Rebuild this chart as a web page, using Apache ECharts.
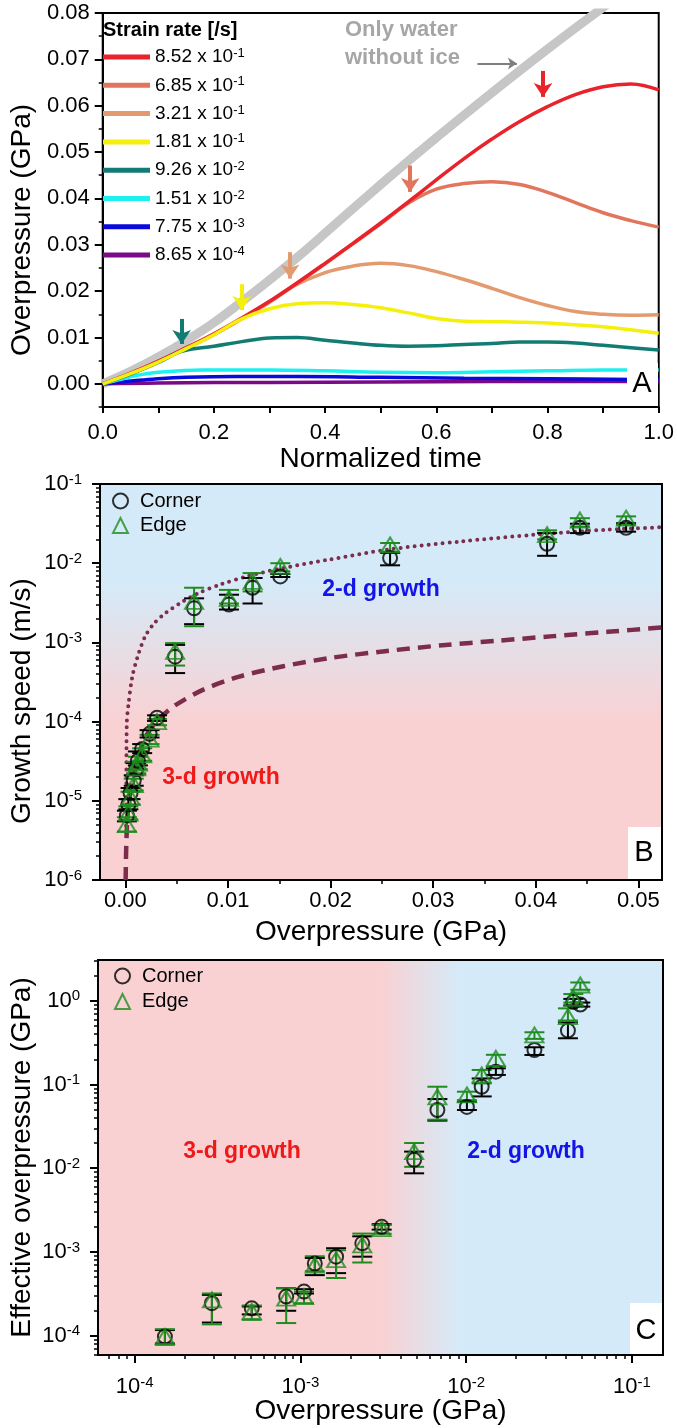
<!DOCTYPE html>
<html><head><meta charset="utf-8">
<script src="https://cdn.jsdelivr.net/npm/echarts@6/dist/echarts.min.js"></script>
<style>html,body{margin:0;padding:0;background:#fff}#c{width:677px;height:1428px}</style>
</head><body><div id="c"></div>
<script>
const FONT = '"Liberation Sans", Arial, sans-serif';

// ---------------- Panel A data ----------------
const rateMantissa = ['8.52', '6.85', '3.21', '1.81', '9.26', '1.51', '7.75', '8.65'];
const rateExponent = ['-1', '-1', '-1', '-1', '-2', '-2', '-3', '-4'];
const rateColors = ['#E8232B', '#E2765C', '#E29A6E', '#F4F00C', '#127B74', '#1CF0F0', '#0A0ADC', '#7A0A86'];

const tGray = [0, 0.05, 0.1, 0.15, 0.2, 0.25, 0.3, 0.35, 0.4, 0.45, 0.5, 0.55, 0.6, 0.7, 0.8, 0.9, 0.95];
const pGray = [0, 0.0027, 0.0058, 0.0093, 0.0132, 0.0177, 0.0224, 0.0273, 0.0325, 0.0378, 0.0430, 0.0481, 0.0531, 0.0628, 0.0722, 0.0812, 0.0855];

const tRed = [0, 0.05, 0.1, 0.15, 0.2, 0.25, 0.3, 0.35, 0.4, 0.45, 0.5, 0.55, 0.6, 0.65, 0.7, 0.75, 0.8, 0.85, 0.9, 0.95, 1.0];
const pRed = [0, 0.0023, 0.0049, 0.0078, 0.0108, 0.0142, 0.0178, 0.0218, 0.0260, 0.0303, 0.0347, 0.0393, 0.0440, 0.0486, 0.0528, 0.0566, 0.0598, 0.0624, 0.0641, 0.0647, 0.0634];

const tOrange = [0, 0.05, 0.1, 0.15, 0.2, 0.25, 0.3, 0.35, 0.4, 0.45, 0.5, 0.55, 0.6, 0.65, 0.7, 0.75, 0.8, 0.85, 0.9, 0.95, 1.0];
const pOrange = [0, 0.0022, 0.0048, 0.0077, 0.0107, 0.0141, 0.0177, 0.0217, 0.0259, 0.0302, 0.0345, 0.0390, 0.0420, 0.0432, 0.0436, 0.0430, 0.0413, 0.0391, 0.0369, 0.0352, 0.0338];

const tTan = [0, 0.05, 0.1, 0.15, 0.2, 0.25, 0.3, 0.34, 0.4, 0.45, 0.5, 0.55, 0.6, 0.65, 0.7, 0.75, 0.8, 0.85, 0.9, 0.95, 1.0];
const pTan = [0, 0.0022, 0.0047, 0.0076, 0.0106, 0.0140, 0.0176, 0.0209, 0.0240, 0.0254, 0.0260, 0.0255, 0.0242, 0.0225, 0.0206, 0.0186, 0.0169, 0.0156, 0.0150, 0.0148, 0.0149];

const tYellow = [0, 0.05, 0.1, 0.15, 0.2, 0.25, 0.3, 0.35, 0.4, 0.45, 0.5, 0.55, 0.6, 0.65, 0.7, 0.75, 0.8, 0.9, 1.0];
const pYellow = [0, 0.0022, 0.0047, 0.0076, 0.0106, 0.0140, 0.0162, 0.0173, 0.0175, 0.0171, 0.0164, 0.0153, 0.0141, 0.0135, 0.0134, 0.0133, 0.0131, 0.0123, 0.0109];

const tTeal = [0, 0.05, 0.1, 0.142, 0.2, 0.25, 0.3, 0.35, 0.4, 0.45, 0.5, 0.55, 0.6, 0.65, 0.7, 0.75, 0.8, 0.85, 0.9, 0.95, 1.0];
const pTeal = [0, 0.0021, 0.0046, 0.0070, 0.0081, 0.0091, 0.0099, 0.0100, 0.0094, 0.0088, 0.0083, 0.0081, 0.0082, 0.0085, 0.0087, 0.0090, 0.0090, 0.0088, 0.0083, 0.0078, 0.0073];

const tCyan = [0, 0.03, 0.06, 0.1, 0.18, 0.3, 0.4, 0.5, 0.6, 0.7, 0.8, 0.9, 1.0];
const pCyan = [0, 0.0009, 0.0018, 0.0025, 0.0030, 0.0030, 0.0028, 0.0025, 0.0024, 0.0026, 0.0028, 0.0030, 0.0030];

const tBlue = [0, 0.05, 0.09, 0.15, 0.24, 0.35, 0.5, 0.65, 0.8, 1.0];
const pBlue = [0, 0.0006, 0.0010, 0.0014, 0.0016, 0.0016, 0.0014, 0.0012, 0.0011, 0.0009];

const tPurple = [0, 0.1, 0.3, 0.5, 0.7, 1.0];
const pPurple = [0, 0.0002, 0.0003, 0.0004, 0.0005, 0.0005];

// arrows (time, start value, end value) : teal, yellow, tan, orange, red
const arrowT = [0.142, 0.25, 0.337, 0.553, 0.792];
const arrowFrom = [0.0140, 0.0215, 0.0284, 0.0471, 0.0675];
const arrowTo = [0.0086, 0.0159, 0.0227, 0.0414, 0.0619];
const grayArrowT = [0.674, 0.745];
const grayArrowP = 0.0691;

const aXLabels = [0, 0.2, 0.4, 0.6, 0.8, 1.0];
const aYLabels = [0, 0.01, 0.02, 0.03, 0.04, 0.05, 0.06, 0.07, 0.08];
const aYMinor = [-0.005, 0.005, 0.015, 0.025, 0.035, 0.045, 0.055, 0.065, 0.075];

// ---------------- Panel B / C data ----------------
const overpressure = [1.52e-4, 2.92e-4, 5.08e-4, 8.2e-4, 1.05e-3, 1.22e-3, 1.64e-3, 2.36e-3, 3.09e-3, 4.85e-3, 6.7e-3, 1.01e-2, 1.24e-2, 1.51e-2, 2.58e-2, 4.11e-2, 4.43e-2, 4.88e-2];

const bCorner   = [6.5e-6, 9.0e-6, 1.25e-5, 1.8e-5, 2.5e-5, 3.2e-5, 4.5e-5, 7.0e-5, 1.12e-4, 6.6e-4, 2.7e-3, 3.0e-3, 4.9e-3, 6.8e-3, 1.16e-2, 1.76e-2, 2.8e-2, 2.8e-2];
const bCornerLo = [5.5e-6, 7.8e-6, 1.05e-5, 1.55e-5, 2.2e-5, 2.8e-5, 4.0e-5, 6.3e-5, 1.02e-4, 4.1e-4, 1.7e-3, 2.6e-3, 3.1e-3, 6.7e-3, 9.4e-3, 1.24e-2, 2.4e-2, 2.5e-2];
const bCornerHi = [7.5e-6, 1.05e-5, 1.45e-5, 2.1e-5, 3.0e-5, 4.2e-5, 5.2e-5, 7.8e-5, 1.2e-4, 9.3e-4, 3.6e-3, 4.0e-3, 6.5e-3, 7.3e-3, 1.35e-2, 2.4e-2, 3.15e-2, 3.2e-2];
const bEdge     = [5.0e-6, 7.0e-6, 1.1e-5, 1.6e-5, 2.6e-5, 3.0e-5, 3.8e-5, 6.0e-5, 1.0e-4, 7.7e-4, 3.3e-3, 3.6e-3, 5.9e-3, 9.1e-3, 1.7e-2, 2.29e-2, 3.5e-2, 3.7e-2];
const bEdgeLo   = [4.1e-6, 5.8e-6, 9.0e-6, 1.35e-5, 2.2e-5, 2.5e-5, 3.2e-5, 5.2e-5, 9.0e-5, 5.1e-4, 1.6e-3, 3.1e-3, 4.4e-3, 7.9e-3, 1.4e-2, 2.0e-2, 2.9e-2, 3.06e-2];
const bEdgeHi   = [6.2e-6, 8.5e-6, 1.3e-5, 1.9e-5, 3.1e-5, 3.6e-5, 4.6e-5, 6.8e-5, 1.08e-4, 9.8e-4, 4.9e-3, 4.6e-3, 7.5e-3, 1.0e-2, 1.8e-2, 2.6e-2, 3.7e-2, 3.9e-2];

const bDotX = [0.00008, 0.0001, 0.00014, 0.00032, 0.00068, 0.00121, 0.00193, 0.00284, 0.00392, 0.00535, 0.00714, 0.0093, 0.0118, 0.0154, 0.0197, 0.0255, 0.0327, 0.0399, 0.047, 0.0525];
const bDotV = [4e-6, 2e-5, 9.6e-5, 1.72e-4, 3.7e-4, 6.7e-4, 1.19e-3, 1.76e-3, 2.35e-3, 3.14e-3, 4.2e-3, 5.4e-3, 6.8e-3, 8.7e-3, 1.1e-2, 1.48e-2, 1.88e-2, 2.29e-2, 2.65e-2, 2.85e-2];
const bDashX = [0.00003, 0.0001, 0.0003, 0.001, 0.002, 0.003, 0.0043, 0.005, 0.0075, 0.0111, 0.0154, 0.0201, 0.0255, 0.0309, 0.0363, 0.0417, 0.047, 0.0525];
const bDashV = [1e-6, 3e-6, 9e-6, 3e-5, 6.5e-5, 1.0e-4, 1.42e-4, 1.65e-4, 2.5e-4, 3.7e-4, 5.0e-4, 6.4e-4, 7.8e-4, 9.2e-4, 1.05e-3, 1.2e-3, 1.36e-3, 1.55e-3];

const bXLabels = [0, 0.01, 0.02, 0.03, 0.04, 0.05];
const bXMinor = [0.005, 0.015, 0.025, 0.035, 0.045];
const bYDecades = [-6, -5, -4, -3, -2, -1];

const cCorner   = [9.8e-5, 2.45e-4, 2.13e-4, 2.94e-4, 3.37e-4, 7.3e-4, 8.8e-4, 1.27e-3, 2.0e-3, 1.26e-2, 4.96e-2, 5.4e-2, 9.4e-2, 0.142, 0.258, 0.44, 0.97, 0.90];
const cCornerLo = [8.1e-5, 1.44e-4, 1.8e-4, 1.99e-4, 3.2e-4, 5.3e-4, 5.6e-4, 8.8e-4, 1.85e-3, 8.7e-3, 3.7e-2, 4.96e-2, 7.2e-2, 0.13, 0.225, 0.356, 0.88, 0.85];
const cCornerHi = [1.17e-4, 3.08e-4, 2.24e-4, 3.7e-4, 3.6e-4, 8.5e-4, 1.11e-3, 1.54e-3, 2.15e-3, 1.58e-2, 6.7e-2, 6.25e-2, 0.118, 0.156, 0.278, 0.55, 1.05, 0.95];
const cEdge     = [9.8e-5, 2.68e-4, 1.95e-4, 2.81e-4, 2.94e-4, 7.0e-4, 8.1e-4, 1.22e-3, 1.9e-3, 1.58e-2, 7.1e-2, 7.5e-2, 0.13, 0.205, 0.39, 0.645, 1.07, 1.54];
const cEdgeLo   = [7.8e-5, 1.37e-4, 1.55e-4, 1.42e-4, 2.45e-4, 5.9e-4, 4.9e-4, 7.5e-4, 1.65e-3, 1.04e-2, 3.8e-2, 6.5e-2, 0.103, 0.163, 0.35, 0.58, 0.95, 1.35];
const cEdgeHi   = [1.2e-4, 3.2e-4, 2.3e-4, 3.7e-4, 3.37e-4, 8.9e-4, 1.05e-3, 1.66e-3, 2.1e-3, 2.0e-2, 9.4e-2, 8.2e-2, 0.149, 0.226, 0.42, 0.81, 1.2, 1.65];

const cXRange = [6.0e-5, 0.154];
const cYRange = [5.9e-5, 3.06];
const bYRange = [1e-6, 0.1];
const bXRange = [-0.00247, 0.0523];
const cXDecades = [-4, -3, -2, -1];
const cYDecades = [-4, -3, -2, -1, 0];

// ---------------- helpers ----------------
function minorLogTicks(lo, hi) {
  const out = [];
  for (let d = Math.floor(lo) - 1; d <= Math.ceil(hi); d++) {
    for (let k = 2; k <= 9; k++) {
      const v = d + Math.log10(k);
      if (v > lo && v < hi) out.push(v);
    }
  }
  return out;
}
const L10 = Math.log10;
const pair = (xs, ys) => xs.map((x, i) => [x, ys[i]]);
const triple = (xs, lo, hi) => xs.map((x, i) => [x, lo[i], hi[i]]);

const axisLine = { show: true, onZero: false, lineStyle: { color: '#000', width: 2 } };
const noLine = { show: false, onZero: false };
const majorTick = (vals) => ({ show: true, inside: false, length: 8, customValues: vals, lineStyle: { color: '#000', width: 2 } });
const minorTick = (vals) => ({ show: true, inside: false, length: 4, customValues: vals, lineStyle: { color: '#000', width: 1.5 } });
const tickFont = { fontFamily: FONT, fontSize: 22, color: '#000' };
const nameFont = { fontFamily: FONT, fontSize: 28, color: '#000' };
const powRich = {
  b: { fontFamily: FONT, fontSize: 22, color: '#000', lineHeight: 24 },
  s: { fontFamily: FONT, fontSize: 15, color: '#000', lineHeight: 15, verticalAlign: 'top' }
};
const powFmt = v => '{b|10}{s|' + Math.round(v) + '}';

function errBars(color, capW) {
  return function (params, api) {
    const x = api.value(0), lo = api.value(1), hi = api.value(2);
    const a = api.coord([x, lo]), b = api.coord([x, hi]);
    const st = { stroke: color, lineWidth: 2, fill: null };
    return {
      type: 'group', children: [
        { type: 'line', shape: { x1: a[0], y1: a[1], x2: b[0], y2: b[1] }, style: st },
        { type: 'line', shape: { x1: a[0] - capW / 2, y1: a[1], x2: a[0] + capW / 2, y2: a[1] }, style: st },
        { type: 'line', shape: { x1: b[0] - capW / 2, y1: b[1], x2: b[0] + capW / 2, y2: b[1] }, style: st }
      ]
    };
  };
}

const GREEN = '#1F8C1F';
const CURVE = '#7B2D4B';

// ---------------- series ----------------
const aNames = rateMantissa.map((m, i) => m + ' x 10^' + rateExponent[i]);
const aT = [tRed, tOrange, tTan, tYellow, tTeal, tCyan, tBlue, tPurple];
const aP = [pRed, pOrange, pTan, pYellow, pTeal, pCyan, pBlue, pPurple];
const drawOrder = [7, 6, 5, 2, 1, 0, 4, 3];
const arrowOwner = { 4: 0, 3: 1, 2: 2, 1: 3, 0: 4 };

const series = [];
series.push({
  type: 'line', name: 'Only water without ice', xAxisIndex: 0, yAxisIndex: 0,
  data: pair(tGray, pGray), showSymbol: false, symbol: 'none', smooth: 0.4,
  lineStyle: { color: '#C6C6C6', width: 9 }, z: 2,
  markLine: {
    silent: true, symbol: ['none', 'arrow'], symbolSize: 9,
    label: { show: false },
    lineStyle: { color: '#7F7F7F', width: 2, type: 'solid' },
    data: [[{ coord: [grayArrowT[0], grayArrowP] }, { coord: [grayArrowT[1], grayArrowP] }]]
  }
});
drawOrder.forEach(i => {
  const s = {
    type: 'line', name: aNames[i], xAxisIndex: 0, yAxisIndex: 0,
    data: pair(aT[i], aP[i]), showSymbol: false, symbol: 'none', smooth: 0.4,
    lineStyle: { color: rateColors[i], width: 3.5 }, itemStyle: { color: rateColors[i] }, z: 3
  };
  if (arrowOwner[i] !== undefined) {
    const k = arrowOwner[i];
    s.markLine = {
      silent: true, symbol: ['none', 'arrow'], symbolSize: 14,
      label: { show: false },
      lineStyle: { color: rateColors[i], width: 4, type: 'solid' },
      data: [[{ coord: [arrowT[k], arrowFrom[k]] }, { coord: [arrowT[k], arrowTo[k]] }]]
    };
  }
  series.push(s);
});

// Panel B
series.push({ type: 'line', name: '2-d model', xAxisIndex: 1, yAxisIndex: 2, data: pair(bDotX, bDotV), showSymbol: false, symbol: 'none', smooth: 0.3,
  lineStyle: { color: CURVE, width: 4, type: [0, 7], cap: 'round' }, z: 2 });
series.push({ type: 'line', name: '3-d model', xAxisIndex: 1, yAxisIndex: 2, data: pair(bDashX, bDashV), showSymbol: false, symbol: 'none', smooth: 0.3,
  lineStyle: { color: CURVE, width: 4.5, type: [13, 8] }, z: 2 });
series.push({ type: 'custom', name: 'Corner err', xAxisIndex: 1, yAxisIndex: 2, renderItem: errBars('#000', 20), data: triple(overpressure, bCornerLo, bCornerHi), z: 3 });
series.push({ type: 'custom', name: 'Edge err', xAxisIndex: 1, yAxisIndex: 2, renderItem: errBars(GREEN, 20), data: triple(overpressure, bEdgeLo, bEdgeHi), z: 4 });
series.push({ type: 'scatter', name: 'Corner', xAxisIndex: 1, yAxisIndex: 2, data: pair(overpressure, bCorner), symbol: 'circle', symbolSize: 14,
  itemStyle: { color: 'rgba(0,0,0,0)', borderColor: '#000', borderWidth: 2 }, z: 5 });
series.push({ type: 'scatter', name: 'Edge', xAxisIndex: 1, yAxisIndex: 2, data: pair(overpressure, bEdge), symbol: 'triangle', symbolSize: [18, 15],
  itemStyle: { color: 'rgba(0,0,0,0)', borderColor: GREEN, borderWidth: 2 }, z: 6 });

// Panel C
series.push({ type: 'custom', name: 'Corner err C', xAxisIndex: 3, yAxisIndex: 5, renderItem: errBars('#000', 20), data: triple(overpressure, cCornerLo, cCornerHi), z: 3 });
series.push({ type: 'custom', name: 'Edge err C', xAxisIndex: 3, yAxisIndex: 5, renderItem: errBars(GREEN, 20), data: triple(overpressure, cEdgeLo, cEdgeHi), z: 4 });
series.push({ type: 'scatter', name: 'Corner', xAxisIndex: 3, yAxisIndex: 5, data: pair(overpressure, cCorner), symbol: 'circle', symbolSize: 14,
  itemStyle: { color: 'rgba(0,0,0,0)', borderColor: '#000', borderWidth: 2 }, z: 5 });
series.push({ type: 'scatter', name: 'Edge', xAxisIndex: 3, yAxisIndex: 5, data: pair(overpressure, cEdge), symbol: 'triangle', symbolSize: [18, 15],
  itemStyle: { color: 'rgba(0,0,0,0)', borderColor: GREEN, borderWidth: 2 }, z: 6 });

// ---------------- axes ----------------
const gridBorder = { show: true, borderColor: '#000', borderWidth: 2 };
const grids = [
  Object.assign({ left: 98, top: 13, width: 562, height: 394, backgroundColor: '#fff' }, gridBorder),
  Object.assign({ left: 98, top: 484, width: 564, height: 396,
    backgroundColor: new echarts.graphic.LinearGradient(0, 0, 0, 1, [
      { offset: 0, color: '#D5EAF8' }, { offset: 0.25, color: '#D5EAF8' },
      { offset: 0.6, color: '#F9D1D3' }, { offset: 1, color: '#F9D1D3' }]) }, gridBorder),
  Object.assign({ left: 98, top: 960, width: 565, height: 395,
    backgroundColor: new echarts.graphic.LinearGradient(0, 0, 1, 0, [
      { offset: 0, color: '#F9D1D3' }, { offset: 0.5, color: '#F9D1D3' },
      { offset: 0.64, color: '#D5EAF8' }, { offset: 1, color: '#D5EAF8' }]) }, gridBorder)
];

const xAxes = [
  { gridIndex: 0, type: 'value', min: 0, max: 1, interval: 0.1, axisLine,
    axisTick: { show: true, length: 6, lineStyle: { color: '#000', width: 2 } },
    axisLabel: Object.assign({ customValues: aXLabels, margin: 15, formatter: v => v.toFixed(1) }, tickFont),
    splitLine: { show: false }, name: 'Normalized time', nameLocation: 'middle', nameGap: 37, nameTextStyle: nameFont },
  { gridIndex: 1, type: 'value', min: bXRange[0], max: bXRange[1], axisLine,
    axisTick: majorTick(bXLabels),
    axisLabel: Object.assign({ customValues: bXLabels, margin: 10, formatter: v => v.toFixed(2) }, tickFont),
    splitLine: { show: false }, name: 'Overpressure (GPa)', nameLocation: 'middle', nameGap: 38, nameTextStyle: nameFont },
  { gridIndex: 1, type: 'value', min: bXRange[0], max: bXRange[1], position: 'bottom', axisLine: noLine,
    axisTick: minorTick(bXMinor), axisLabel: { show: false }, splitLine: { show: false } },
  { gridIndex: 2, type: 'log', min: cXRange[0], max: cXRange[1], axisLine, axisTick: { show: false }, axisLabel: { show: false },
    splitLine: { show: false }, name: 'Overpressure (GPa)', nameLocation: 'middle', nameGap: 42, nameTextStyle: nameFont },
  { gridIndex: 2, type: 'value', min: L10(cXRange[0]), max: L10(cXRange[1]), position: 'bottom', axisLine: noLine,
    axisTick: majorTick(cXDecades),
    axisLabel: { customValues: cXDecades, margin: 20, formatter: powFmt, rich: powRich },
    splitLine: { show: false } },
  { gridIndex: 2, type: 'value', min: L10(cXRange[0]), max: L10(cXRange[1]), position: 'bottom', axisLine: noLine,
    axisTick: minorTick(minorLogTicks(L10(cXRange[0]), L10(cXRange[1]))), axisLabel: { show: false }, splitLine: { show: false } }
];

const yAxes = [
  { gridIndex: 0, type: 'value', min: -0.005, max: 0.08, position: 'left', axisLine,
    axisTick: majorTick(aYLabels),
    axisLabel: Object.assign({ customValues: aYLabels, margin: 13, formatter: v => v.toFixed(2) }, tickFont),
    splitLine: { show: false }, name: 'Overpressure (GPa)', nameLocation: 'middle', nameGap: 64,
    nameTextStyle: Object.assign({ padding: [0, 40, 0, 0] }, nameFont) },
  { gridIndex: 0, type: 'value', min: -0.005, max: 0.08, position: 'left', axisLine: noLine,
    axisTick: minorTick(aYMinor), axisLabel: { show: false }, splitLine: { show: false } },
  { gridIndex: 1, type: 'log', min: bYRange[0], max: bYRange[1], position: 'left', axisLine, axisTick: { show: false }, axisLabel: { show: false },
    splitLine: { show: false }, name: 'Growth speed (m/s)', nameLocation: 'middle', nameGap: 64,
    nameTextStyle: Object.assign({ padding: [0, 38, 0, 0] }, nameFont) },
  { gridIndex: 1, type: 'value', min: L10(bYRange[0]), max: L10(bYRange[1]), position: 'left', axisLine: noLine,
    axisTick: majorTick(bYDecades),
    axisLabel: { customValues: bYDecades, margin: 18, formatter: powFmt, rich: powRich },
    splitLine: { show: false } },
  { gridIndex: 1, type: 'value', min: L10(bYRange[0]), max: L10(bYRange[1]), position: 'left', axisLine: noLine,
    axisTick: minorTick(minorLogTicks(L10(bYRange[0]), L10(bYRange[1]))), axisLabel: { show: false }, splitLine: { show: false } },
  { gridIndex: 2, type: 'log', min: cYRange[0], max: cYRange[1], position: 'left', axisLine, axisTick: { show: false }, axisLabel: { show: false },
    splitLine: { show: false }, name: 'Effective overpressure (GPa)', nameLocation: 'middle', nameGap: 62, nameTextStyle: nameFont },
  { gridIndex: 2, type: 'value', min: L10(cYRange[0]), max: L10(cYRange[1]), position: 'left', axisLine: noLine,
    axisTick: majorTick(cYDecades),
    axisLabel: { customValues: cYDecades, margin: 18, formatter: powFmt, rich: powRich },
    splitLine: { show: false } },
  { gridIndex: 2, type: 'value', min: L10(cYRange[0]), max: L10(cYRange[1]), position: 'left', axisLine: noLine,
    axisTick: minorTick(minorLogTicks(L10(cYRange[0]), L10(cYRange[1]))), axisLabel: { show: false }, splitLine: { show: false } }
];

// ---------------- legends ----------------
const legRich = {
  a: { fontFamily: FONT, fontSize: 19, color: '#000', lineHeight: 20 },
  s: { fontFamily: FONT, fontSize: 13, color: '#000', lineHeight: 13, verticalAlign: 'top' }
};
const cbLegendData = [
  { name: 'Corner', icon: 'circle', itemStyle: { color: 'rgba(0,0,0,0)', borderColor: '#000', borderWidth: 2 } },
  { name: 'Edge', icon: 'triangle', itemStyle: { color: 'rgba(0,0,0,0)', borderColor: GREEN, borderWidth: 2 } }
];
const legends = [
  { orient: 'vertical', left: 103, top: 47, padding: 0, itemWidth: 47, itemHeight: 5, icon: 'rect', itemGap: 8.3, selectedMode: false,
    data: aNames, formatter: n => { const p = n.split(' x 10^'); return '{a|' + p[0] + ' x 10}{s|' + p[1] + '}'; },
    textStyle: { rich: legRich, lineHeight: 20 } },
  { orient: 'vertical', left: 112, top: 491, padding: 0, itemWidth: 15, itemHeight: 15, itemGap: 4.5, selectedMode: false,
    data: cbLegendData, textStyle: { fontFamily: FONT, fontSize: 20, color: '#000', lineHeight: 15, padding: [0, 0, 0, 7] } },
  { orient: 'vertical', left: 114, top: 966, padding: 0, itemWidth: 15, itemHeight: 15, itemGap: 5.5, selectedMode: false,
    data: cbLegendData, textStyle: { fontFamily: FONT, fontSize: 20, color: '#000', lineHeight: 15, padding: [0, 0, 0, 7] } }
];

// ---------------- annotations ----------------
const txt = (x, y, text, size, color, weight, align) => ({
  type: 'text', x, y, z: 100,
  style: { text, fontFamily: FONT, fontSize: size, fill: color, fontWeight: weight || 'normal', align: align || 'left', verticalAlign: 'middle' }
});
const box = (x, y, w, h) => ({ type: 'rect', z: 99, shape: { x, y, width: w, height: h }, style: { fill: '#fff' } });
const graphic = [
  txt(103, 30, 'Strain rate [/s]', 20, '#000', 'bold'),
  txt(345, 30, 'Only water', 22, '#A6A6A6', 'bold'),
  txt(345, 58, 'without ice', 22, '#A6A6A6', 'bold'),
  box(627, 363, 31, 43), txt(642, 384, 'A', 29, '#000', 'normal', 'center'),
  txt(381, 590, '2-d growth', 23, '#1414E6', 'bold', 'center'),
  txt(221, 778, '3-d growth', 23, '#EE1A1A', 'bold', 'center'),
  box(628, 827, 33, 52), txt(644, 853, 'B', 29, '#000', 'normal', 'center'),
  txt(242, 1152, '3-d growth', 23, '#EE1A1A', 'bold', 'center'),
  txt(526, 1152, '2-d growth', 23, '#1414E6', 'bold', 'center'),
  box(630, 1303, 32, 51), txt(646, 1331, 'C', 29, '#000', 'normal', 'center')
];

const chart = echarts.init(document.getElementById('c'));
chart.setOption({
  animation: false,
  backgroundColor: '#fff',
  textStyle: { fontFamily: FONT },
  grid: grids, xAxis: xAxes, yAxis: yAxes, legend: legends, series, graphic
});
</script></body></html>
